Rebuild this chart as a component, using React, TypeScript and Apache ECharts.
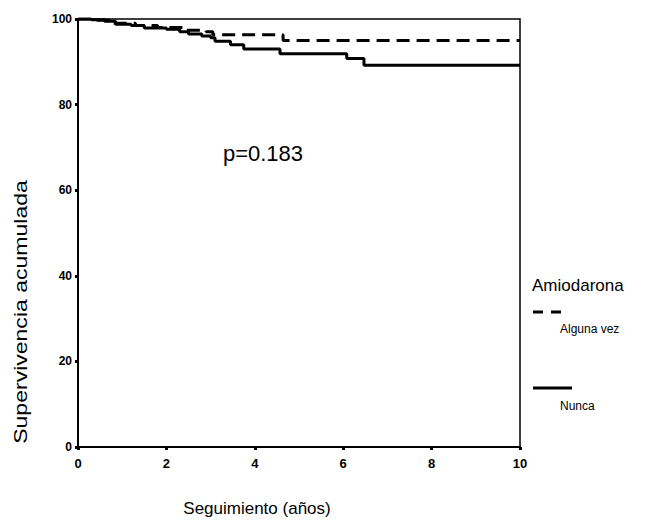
import React, { useEffect, useRef } from "react";
import * as echarts from "echarts";

const xTicks = [0, 2, 4, 6, 8, 10];
const yTicks = [0, 20, 40, 60, 80, 100];

// Kaplan-Meier steps: [years, cumulative survival %]
const nuncaTimes = [0, 0.3, 0.6, 0.85, 1.2, 1.5, 2.0, 2.3, 2.5, 2.8, 3.0, 3.1, 3.45, 3.75, 4.57, 6.08, 6.47, 10];
const nuncaSurv = [100, 99.8, 99.5, 98.8, 98.5, 97.9, 97.6, 97.0, 96.5, 96.0, 95.6, 94.8, 94.0, 93.0, 91.9, 90.8, 89.2, 89.2];

const algunaTimes = [0, 0.4, 0.8, 1.3, 1.8, 2.4, 2.9, 3.05, 4.64, 10];
const algunaSurv = [100, 99.7, 99.0, 98.5, 98.0, 97.4, 97.0, 96.3, 95.0, 95.0];

const legendTitle = "Amiodarona";
const seriesNames = ["Alguna vez", "Nunca"];
const pValueText = "p=0.183";

export default function App() {
  const ref = useRef<HTMLDivElement>(null);
  useEffect(() => {
    if (!ref.current) return;
    const chart = echarts.init(ref.current, null, { renderer: "svg" });
    const font = "Arial, 'Liberation Sans', sans-serif";
    chart.setOption({
      animation: false,
      backgroundColor: "#fff",
      grid: { left: 78, right: 125, top: 19, bottom: 76, show: true, borderColor: "#000", borderWidth: 1.5 },
      xAxis: {
        type: "value",
        min: 0,
        max: 10,
        interval: 2,
        axisLine: { show: true, lineStyle: { color: "#000", width: 2 } },
        axisTick: { show: true, length: 3, lineStyle: { color: "#000", width: 3 } },
        axisLabel: { color: "#000", fontFamily: font, fontWeight: "bold", fontSize: 13, margin: 10, formatter: (v: number) => (xTicks.includes(v) ? String(v) : "") },
        splitLine: { show: false },
      },
      yAxis: {
        type: "value",
        min: 0,
        max: 100,
        interval: 20,
        axisLine: { show: true, lineStyle: { color: "#000", width: 2 } },
        axisTick: { show: true, length: 3, lineStyle: { color: "#000", width: 3 } },
        axisLabel: { color: "#000", fontFamily: font, fontWeight: "bold", fontSize: 12, margin: 6, formatter: (v: number) => (yTicks.includes(v) ? String(v) : "") },
        splitLine: { show: false },
      },
      series: [
        {
          name: seriesNames[0],
          type: "line",
          step: "end",
          symbol: "none",
          data: algunaTimes.map((t, i) => [t, algunaSurv[i]]),
          lineStyle: { color: "#000", width: 3, type: [13, 7] },
          z: 3,
        },
        {
          name: seriesNames[1],
          type: "line",
          step: "end",
          symbol: "none",
          data: nuncaTimes.map((t, i) => [t, nuncaSurv[i]]),
          lineStyle: { color: "#000", width: 3 },
          z: 2,
        },
      ],
      graphic: [
        { type: "text", x: 263, y: 153, style: { text: pValueText, fill: "#000", font: `22px ${font}`, align: "center", verticalAlign: "middle" } },
        {
          type: "text",
          x: 20,
          y: 312,
          rotation: Math.PI / 2,
          scaleX: 1.28,
          style: { text: "Supervivencia acumulada", fill: "#000", font: `18px ${font}`, align: "center", verticalAlign: "middle" },
        },
        { type: "text", x: 257, y: 508, style: { text: "Seguimiento (años)", fill: "#000", font: `17px ${font}`, align: "center", verticalAlign: "middle" } },
        { type: "text", x: 532, y: 285, style: { text: legendTitle, fill: "#000", font: `17px ${font}`, verticalAlign: "middle" } },
        { type: "line", shape: { x1: 533, y1: 312, x2: 563, y2: 312 }, style: { stroke: "#000", lineWidth: 3, lineDash: [10, 8] } },
        { type: "text", x: 560, y: 329, style: { text: seriesNames[0], fill: "#000", font: `12px ${font}`, verticalAlign: "middle" } },
        { type: "line", shape: { x1: 533, y1: 388, x2: 572, y2: 388 }, style: { stroke: "#000", lineWidth: 3 } },
        { type: "text", x: 560, y: 406, style: { text: seriesNames[1], fill: "#000", font: `12px ${font}`, verticalAlign: "middle" } },
      ],
    });
    return () => chart.dispose();
  }, []);
  return <div ref={ref} style={{ width: 645, height: 523, position: "absolute", left: 0, top: 0 }} />;
}
